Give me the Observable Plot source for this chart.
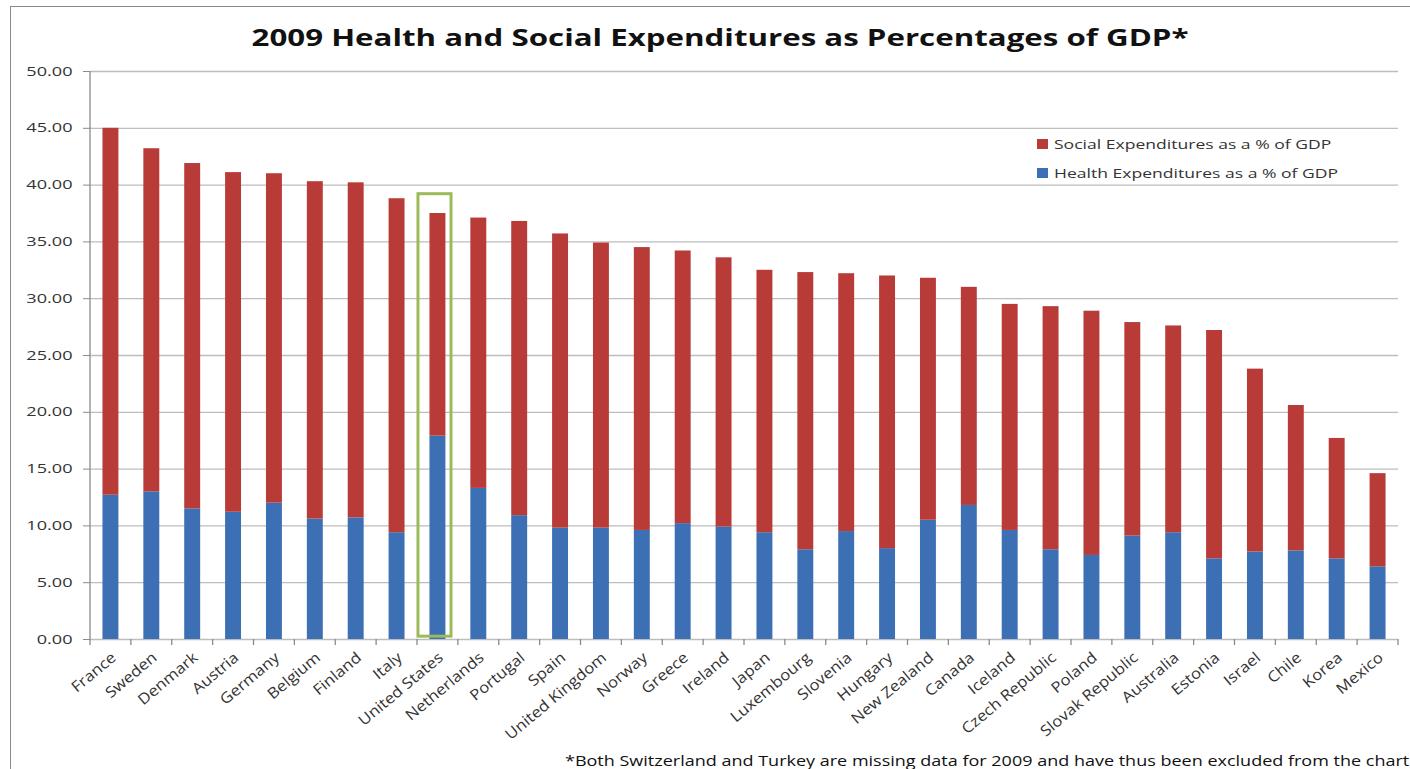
<!DOCTYPE html>
<html><head><meta charset="utf-8">
<script src="https://cdn.jsdelivr.net/npm/d3@7"></script>
<script src="https://cdn.jsdelivr.net/npm/@observablehq/plot@0.6"></script>
<style>
html,body{margin:0;padding:0;background:#fff;overflow:hidden;}
#wrap{position:relative;width:1410px;height:769px;overflow:hidden;font-family:"Open Sans",sans-serif;color:#404040;}
#frame{position:absolute;left:10px;top:6px;width:1410px;height:800px;border-left:1.5px solid #8a8a8a;border-top:1.5px solid #8a8a8a;}
#chart{position:absolute;left:0;top:0;}
#title{position:absolute;left:220px;width:1000px;top:21px;line-height:32px;text-align:center;font-weight:700;font-size:23.5px;color:#111;white-space:nowrap;transform:scaleX(1.33);transform-origin:center;}
#legend{position:absolute;left:1037px;top:130px;font-size:13.5px;color:#333;}
#legend .row{display:flex;align-items:center;height:28.5px;}
#legend .sw{width:11px;height:10px;margin-right:6px;flex:none;}
#legend span{display:inline-block;transform:scaleX(1.3);transform-origin:left center;white-space:nowrap;}
#note{position:absolute;left:565px;top:750px;line-height:20px;font-size:15px;color:#111;white-space:nowrap;transform:scaleX(1.2);transform-origin:left center;}
</style></head>
<body><div id="wrap"><div id="frame"></div><div id="chart"></div>
<div id="title"></div><div id="legend"></div><div id="note"></div></div>
<script>
const countries = ["France","Sweden","Denmark","Austria","Germany","Belgium","Finland","Italy","United States","Netherlands","Portugal","Spain","United Kingdom","Norway","Greece","Ireland","Japan","Luxembourg","Slovenia","Hungary","New Zealand","Canada","Iceland","Czech Republic","Poland","Slovak Republic","Australia","Estonia","Israel","Chile","Korea","Mexico"];
const health = [12.7,13.0,11.5,11.2,12.0,10.6,10.7,9.4,17.9,13.3,10.9,9.8,9.8,9.6,10.2,9.9,9.4,7.9,9.5,8.0,10.5,11.8,9.6,7.9,7.4,9.1,9.4,7.1,7.7,7.8,7.1,6.4];
const social = [32.3,30.2,30.4,29.9,29.0,29.7,29.5,29.4,19.6,23.8,25.9,25.9,25.1,24.9,24.0,23.7,23.1,24.4,22.7,24.0,21.3,19.2,19.9,21.4,21.5,18.8,18.2,20.1,16.1,12.8,10.6,8.2];
const seriesNames = ["Health Expenditures as a % of GDP","Social Expenditures as a % of GDP"];
const legendOrder = ["Social Expenditures as a % of GDP","Health Expenditures as a % of GDP"];
const seriesColors = ["#3d6fb5","#b93b38"];
const yTicks = [0,5,10,15,20,25,30,35,40,45,50];
const highlight = [{country:"United States", from:0.25, to:39.2}];
const titleText = "2009 Health and Social Expenditures as Percentages of GDP*";
const noteText = "*Both Switzerland and Turkey are missing data for 2009 and have thus been excluded from the chart";

const rows = [];
countries.forEach((c,i)=>{
  rows.push({country:c, series:seriesNames[0], value:health[i]});
  rows.push({country:c, series:seriesNames[1], value:social[i]});
});

function axisLines(index, scales, values, dims) {
  const g = d3.create("svg:g").attr("stroke","#8a8a8a").attr("stroke-width",1.3);
  const x0 = dims.marginLeft, x1 = dims.width - dims.marginRight;
  const yb = dims.height - dims.marginBottom, yt = dims.marginTop;
  const n = countries.length, step = (x1 - x0) / n;
  g.append("line").attr("x1",x0).attr("x2",x0).attr("y1",yt).attr("y2",yb);
  for (let k = 0; k <= n; k++) {
    g.append("line").attr("x1",x0+k*step).attr("x2",x0+k*step).attr("y1",yb).attr("y2",yb+6);
  }
  return g.node();
}

const chart = Plot.plot({
  width: 1410, height: 769,
  marginLeft: 90, marginRight: 12, marginTop: 71, marginBottom: 130,
  style: {fontFamily: '"Open Sans", sans-serif', background: "transparent"},
  x: {domain: countries, paddingInner: 0.61, paddingOuter: 0.305, round: false, label: null},
  y: {domain: [0,50], label: null},
  color: {domain: seriesNames, range: seriesColors},
  marks: [
    Plot.gridY(yTicks, {stroke: "#bdbdbd", strokeOpacity: 1, strokeWidth: 1.3}),
    Plot.barY(rows, {x: "country", y: "value", fill: "series"}),
    Plot.barY(highlight, {x: "country", y1: "from", y2: "to", fill: "none", stroke: "#9bbb59", strokeWidth: 3, insetLeft: -11.5, insetRight: -5.6}),
    axisLines,
    Plot.axisY(yTicks, {tickFormat: d3.format(".2f"), tickSize: 7, tickPadding: 11, fontSize: 12.5, fill: "#333", stroke: "#8a8a8a", label: null, ariaLabel: "y-axis"}),
    Plot.axisX({tickSize: 0, tickPadding: 16, dx: 3, tickRotate: -40, fontSize: 15, fill: "#333", label: null, ariaLabel: "x-axis"})
  ]
});
document.getElementById("chart").appendChild(chart);

// horizontal stretch of the tick labels, as in the reference picture
d3.select(chart).selectAll('[aria-label="y-axis tick label"] text, [aria-label="y-axis"] text').each(function(){
  const t = this.getAttribute("transform") || "";
  if (!t.includes("scale")) this.setAttribute("transform", t + " scale(1.45,1)");
});
d3.select(chart).selectAll('[aria-label="x-axis tick label"] text, [aria-label="x-axis"] text').each(function(){
  const t = this.getAttribute("transform") || "";
  if (!t.includes("scale")) this.setAttribute("transform", t + " scale(1.12,1)");
});

document.getElementById("title").textContent = titleText;
document.getElementById("note").textContent = noteText;
const lg = document.getElementById("legend");
legendOrder.forEach(name => {
  const r = document.createElement("div"); r.className = "row";
  const s = document.createElement("div"); s.className = "sw";
  s.style.background = seriesColors[seriesNames.indexOf(name)];
  const t = document.createElement("span"); t.textContent = name;
  r.appendChild(s); r.appendChild(t); lg.appendChild(r);
});
</script></body></html>
